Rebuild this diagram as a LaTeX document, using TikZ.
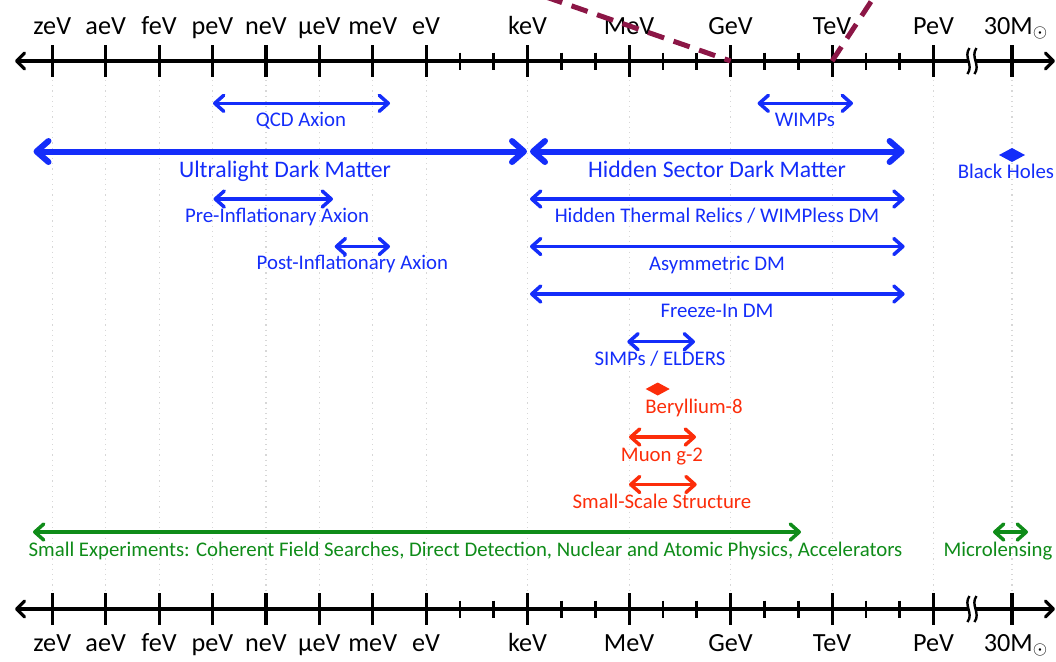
\documentclass[tikz,border=0pt]{standalone}
\usepackage{fontspec}
\setmainfont{Carlito}
\usetikzlibrary{arrows.meta}
\definecolor{dmblue}{RGB}{20,45,250}
\definecolor{dmred}{RGB}{252,45,10}
\definecolor{dmgreen}{RGB}{15,140,25}
\definecolor{dmmaroon}{RGB}{140,22,70}
\definecolor{gridgray}{RGB}{215,215,215}
\begin{document}
\begin{tikzpicture}[x=0.5pt,y=-0.5pt,
  axisline/.style={line width=1.6pt, draw=black, >={Straight Barb[length=4pt,width=8pt,round]}, <->},
  majtick/.style={line width=1.6pt, draw=black},
  mintick/.style={line width=1.4pt, draw=black},
  gridline/.style={draw=gridgray, line width=0.6pt, dotted},
  axlbl/.style={font=\fontsize{13.1}{15}\selectfont, anchor=base, inner sep=0pt},
  lbl/.style={font=\fontsize{10.4}{12}\selectfont, anchor=base, inner sep=0pt},
  biglbl/.style={font=\fontsize{11.85}{14}\selectfont, anchor=base, inner sep=0pt},
  rng/.style={line width=1.75pt, >={Straight Barb[length=4.5pt,width=8pt,round]}, <->},
  bigrng/.style={line width=3pt, >={Straight Barb[length=6pt,width=10.5pt,round]}, <->},
  dashline/.style={draw=dmmaroon, line width=2.5pt, dash pattern=on 8.5pt off 5pt}
]
\useasboundingbox (0,0) rectangle (1056,661);
\fill[white] (0,0) rectangle (1056,661);

% grid lines
\foreach \x in {52.3,105.7,159.1,212.5,265.9,319.3,372.7,426.1,527.6,629.1,730.6,832.1,933.6,1012}
  \draw[gridline] (\x,80) -- (\x,591);

% axes
\coordinate (topL) at (15,61);  \coordinate (topR) at (1055,61);
\coordinate (botL) at (15,609); \coordinate (botR) at (1055,609);
\draw[axisline] (topL) -- (topR);
\draw[axisline] (botL) -- (botR);

\foreach \y in {61,609}{
  \foreach \x in {52.3,105.7,159.1,212.5,265.9,319.3,372.7,426.1,527.6,629.1,730.6,832.1,933.6,1012}
    \draw[majtick] (\x,\y-16) -- (\x,\y+16);
  \foreach \x in {459.9,493.8,561.4,595.3,662.9,696.7,764.4,798.2,865.9,899.7}
    \draw[mintick] (\x,\y-8.5) -- (\x,\y+8.5);
  % axis break
  \fill[white] (967.5,\y-4) rectangle (974.5,\y+4);
  \draw[line width=1.2pt] (969.5,\y-13) .. controls (963,\y-4) and (974,\y+4) .. (967.5,\y+13);
  \draw[line width=1.2pt] (976.5,\y-13) .. controls (970,\y-4) and (981,\y+4) .. (974.5,\y+13);
}

% axis labels
\foreach \x/\t [count=\i] in {52.3/zeV,105.7/aeV,159.1/feV,212.5/peV,265.9/neV,319.3/μeV,372.7/meV,426.1/eV,527.6/keV,629.1/MeV,730.6/GeV,832.1/TeV,933.6/PeV}{
  \node[axlbl] (tl\i) at (\x,34) {\t};
  \node[axlbl] (bl\i) at (\x,651) {\t};
}
\node[axlbl] (tl14) at (1016,34) {30M$_\odot$};
\node[axlbl] (bl14) at (1016,651) {30M$_\odot$};

% ranges - blue
\begin{scope}[dmblue]
\coordinate (qcdL) at (213,103.3); \coordinate (qcdR) at (390,103.3);
\draw[rng] (qcdL) -- (qcdR);
\node[lbl] (qcd) at (301,126.7) {QCD Axion};

\coordinate (wimpL) at (757.6,103.3); \coordinate (wimpR) at (853,103.3);
\draw[rng] (wimpL) -- (wimpR);
\node[lbl] (wimp) at (805,126.5) {WIMPs};

\coordinate (ultL) at (33.5,151.5); \coordinate (ultR) at (527,151.5);
\draw[bigrng] (ultL) -- (ultR);
\node[biglbl] (ult) at (285,177.5) {Ultralight Dark Matter};

\coordinate (hsL) at (530,151.5); \coordinate (hsR) at (904.6,151.5);
\draw[bigrng] (hsL) -- (hsR);
\node[biglbl] (hs) at (717,177.5) {Hidden Sector Dark Matter};

\coordinate (bh) at (1012,155);
\fill (bh) ++(-13,0) -- ++(13,-7) -- ++(13,7) -- ++(-13,7) -- cycle;
\node[lbl] (bhl) at (1006,178.5) {Black Holes};

\coordinate (preL) at (213.5,199); \coordinate (preR) at (333,199);
\draw[rng] (preL) -- (preR);
\node[lbl] (pre) at (277,222) {Pre-Inflationary Axion};

\coordinate (htL) at (530,199); \coordinate (htR) at (904.6,199);
\draw[rng] (htL) -- (htR);
\node[lbl] (ht) at (717,222.5) {Hidden Thermal Relics / WIMPless DM};

\coordinate (postL) at (334.7,246.5); \coordinate (postR) at (390,246.5);
\draw[rng] (postL) -- (postR);
\node[lbl] (post) at (352.4,269.5) {Post-Inflationary Axion};

\coordinate (asL) at (530,246.5); \coordinate (asR) at (904.6,246.5);
\draw[rng] (asL) -- (asR);
\node[lbl] (as) at (717,270) {Asymmetric DM};

\coordinate (fiL) at (530,294); \coordinate (fiR) at (904.6,294);
\draw[rng] (fiL) -- (fiR);
\node[lbl] (fi) at (717,317.5) {Freeze-In DM};

\coordinate (simL) at (627.3,341.7); \coordinate (simR) at (695,341.7);
\draw[rng] (simL) -- (simR);
\node[lbl] (sim) at (660,365.5) {SIMPs / ELDERS};
\end{scope}

% red
\begin{scope}[dmred]
\coordinate (be) at (657.7,389);
\fill (be) ++(-12,0) -- ++(12,-6.5) -- ++(12,6.5) -- ++(-12,6.5) -- cycle;
\node[lbl] (bel) at (694,413) {Beryllium-8};

\coordinate (muL) at (629,437); \coordinate (muR) at (696,437);
\draw[rng] (muL) -- (muR);
\node[lbl] (mu) at (662,461.5) {Muon g-2};

\coordinate (ssL) at (629,484.5); \coordinate (ssR) at (696.7,484.5);
\draw[rng] (ssL) -- (ssR);
\node[lbl] (ss) at (662,508.3) {Small-Scale Structure};
\end{scope}

% green
\begin{scope}[dmgreen]
\coordinate (seL) at (33,532); \coordinate (seR) at (801,532);
\draw[rng] (seL) -- (seR);
\node[lbl] (se) at (465.5,556) {Small Experiments: Coherent Field Searches, Direct Detection, Nuclear and Atomic Physics, Accelerators};

\coordinate (mlL) at (993,532); \coordinate (mlR) at (1028,532);
\draw[rng] (mlL) -- (mlR);
\node[lbl] (ml) at (998,556) {Microlensing};
\end{scope}

% dashed maroon lines
\coordinate (dA) at (546,-3); \coordinate (dB) at (730.6,61);
\coordinate (dC) at (832.1,61); \coordinate (dD) at (874,-3);
\draw[dashline] (dA) -- (dB);
\draw[dashline] (dC) -- (dD);
\end{tikzpicture}
\end{document}
